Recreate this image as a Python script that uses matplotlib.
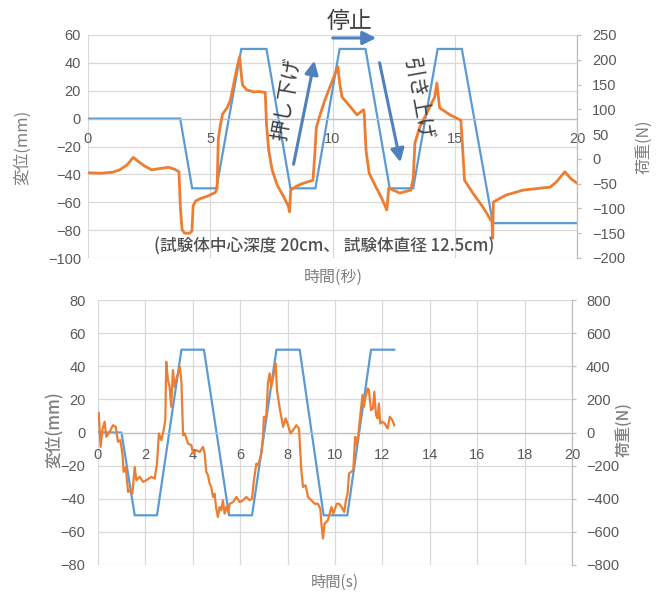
import matplotlib
matplotlib.use("Agg")
import matplotlib.pyplot as plt
from matplotlib.patches import FancyArrowPatch

plt.rcParams['font.family'] = ['Liberation Sans', 'Noto Sans CJK JP', 'DejaVu Sans']

JP = ['Noto Sans CJK JP', 'DejaVu Sans']
NARROW = ['Liberation Sans Narrow', 'Liberation Sans', 'DejaVu Sans']

BLUE = '#5B9BD5'
ORANGE = '#ED7D31'
ARROW = '#4F81BD'
GRID = '#D9D9D9'
TICK = '#595959'
LABEL = '#7F7F7F'

# ---- upper test: displacement (mm) and load (N) vs time (s) ----
top_disp_t = [0, 3.77, 4.26, 5.25, 6.27, 7.30, 8.28, 9.30, 10.29, 11.35,
              12.34, 13.30, 14.30, 15.29, 16.56, 20.0]
top_disp = [0, 0, -50, -50, 50, 50, -50, -50, 50, 50, -50, -50, 50, 50, -75, -75]

top_load_t = [0, 0.5, 1.0, 1.3, 1.6, 1.85, 2.0, 2.3, 2.6, 3.0, 3.3, 3.55, 3.72,
              3.78, 3.85, 3.95, 4.15, 4.25, 4.30, 4.40, 4.60, 4.90, 5.20, 5.28,
              5.33, 5.40, 5.50, 5.70, 5.82, 5.95, 6.09, 6.20, 6.27, 6.32, 6.50,
              6.80, 7.00, 7.25, 7.30, 7.39, 7.53, 7.74, 8.00, 8.20, 8.24, 8.29,
              8.50, 8.70, 9.20, 9.27, 9.34, 9.48, 9.69, 9.90, 10.22, 10.30,
              10.39, 10.73, 11.00, 11.27, 11.30, 11.37, 11.50, 11.77, 11.98,
              12.22, 12.30, 12.75, 13.20, 13.30, 13.37, 13.57, 13.98, 14.18,
              14.27, 14.38, 14.80, 15.25, 15.30, 15.40, 15.74, 16.15, 16.52,
              16.55, 16.58, 17.10, 17.80, 18.90, 19.15, 19.50, 19.75, 20.0]
top_load = [-28, -29, -27, -22, -12, 3, -3, -14, -22, -19, -17, -21, -26,
            -100, -143, -150, -150, -146, -95, -85, -80, -75, -68, -60,
            40, 64, 90, 104, 118, 149, 183, 206, 170, 149, 139,
            135, 136, 134, 70, 18, -22, -53, -76, -96, -107, -63,
            -56, -51, -43, 4, 64, 87, 119, 146, 186, 150,
            125, 105, 89, 99, 90, 18, -29, -56, -76,
            -103, -59, -69, -63, -40, 32, 64, 105, 125,
            153, 103, 89, 78, 40, -43, -69, -97, -127,
            -160, -87, -73, -63, -57, -47, -26, -40, -49]

# ---- lower test ----
bot_disp_t = [0, 0.99, 1.55, 2.49, 3.52, 4.47, 5.53, 6.50, 7.53, 8.51, 9.52,
              10.52, 11.52, 12.50]
bot_disp = [0, 0, -50, -50, 50, 50, -50, -50, 50, 50, -50, -50, 50, 50]

bot_load_t = [0.03, 0.11, 0.18, 0.28, 0.35, 0.49, 0.63, 0.75, 0.84, 0.94, 1.03,
              1.08, 1.17, 1.27, 1.36, 1.45, 1.55, 1.62, 1.76, 1.90, 2.04, 2.25,
              2.39, 2.49, 2.57, 2.67, 2.77, 2.84, 2.88, 2.95, 3.02, 3.09, 3.16,
              3.23, 3.31, 3.38, 3.45, 3.52, 3.59, 3.66, 3.80, 3.94, 4.01, 4.15,
              4.29, 4.43, 4.50, 4.57, 4.64, 4.71, 4.78, 4.85, 4.92, 4.99, 5.06,
              5.13, 5.20, 5.27, 5.34, 5.41, 5.49, 5.56, 5.70, 5.84, 5.98, 6.12,
              6.26, 6.40, 6.50, 6.57, 6.68, 6.75, 6.82, 6.89, 6.96, 7.00, 7.10,
              7.17, 7.24, 7.31, 7.41, 7.50, 7.55, 7.67, 7.81, 7.92, 8.02, 8.12,
              8.23, 8.37, 8.48, 8.58, 8.65, 8.76, 8.86, 9.00, 9.14, 9.28, 9.38,
              9.42, 9.49, 9.56, 9.70, 9.85, 9.93, 10.07, 10.17, 10.28, 10.39,
              10.46, 10.53, 10.59, 10.67, 10.77, 10.85, 10.92, 10.99, 11.06,
              11.16, 11.22, 11.29, 11.38, 11.43, 11.52, 11.60, 11.66, 11.73,
              11.80, 11.85, 11.91, 11.99, 12.10, 12.22, 12.31, 12.42, 12.50]
bot_load = [119, -87, 14, 65, -26, 4, 44, 34, -56, -46, -127,
            -238, -208, -359, -349, -369, -208, -288, -268, -298, -288, -268,
            -278, -188, -6, -46, 14, 75, 427, 317, 276, 155, 377,
            276, 327, 357, 397, 306, -16, -6, -67, -77, -127, -107,
            -117, -87, -127, -238, -258, -308, -329, -389, -369, -460, -510,
            -450, -470, -409, -490, -450, -480, -430, -420, -389, -420, -409,
            -389, -409, -400, -298, -188, -198, -167, -127, -26, 95, 95,
            296, 357, 276, 347, 417, 256, 145, 34, 85, 44, -6,
            14, 44, 24, -228, -329, -319, -389, -409, -430, -430, -460,
            -540, -640, -550, -530, -450, -490, -430, -430, -450, -480,
            -410, -370, -248, -238, -228, -26, -77, -6, 95,
            226, 155, 216, 266, 256, 135, 145, 246, 105,
            85, 175, 54, 65, 54, 24, 95, 75, 44]

W, H = 664, 592
fig = plt.figure(figsize=(W / 100, H / 100), dpi=100)


def fx(x):
    return x / W


def fy(y):
    return 1 - y / H


def style_axes(ax, ax2, tick_font, tick_size, left_pad, right_pad, x_pad):
    ax.set_facecolor('none')
    for s in ('top', 'right', 'left'):
        ax.spines[s].set_visible(False)
    ax.spines['bottom'].set_position(('data', 0))
    ax.spines['bottom'].set_color('#BFBFBF')
    ax.spines['bottom'].set_linewidth(0.9)
    ax.grid(True, color=GRID, linewidth=0.9)
    ax.set_axisbelow(True)
    ax.tick_params(axis='both', length=0, colors=TICK, labelsize=tick_size)
    ax.tick_params(axis='y', pad=left_pad)
    ax.tick_params(axis='x', pad=x_pad)
    for s in ('top', 'left', 'bottom'):
        ax2.spines[s].set_visible(False)
    ax2.spines['right'].set_color('#BFBFBF')
    ax2.spines['right'].set_linewidth(0.9)
    ax2.tick_params(axis='y', length=3, width=0.9, color='#BFBFBF',
                    colors=TICK, labelsize=tick_size, pad=right_pad)
    ax2.tick_params(axis='y', color='#BFBFBF')
    for lab in ax.get_xticklabels() + ax.get_yticklabels() + ax2.get_yticklabels():
        lab.set_family(tick_font)


# ================= upper chart =================
ax = fig.add_axes([fx(88), fy(258), fx(577) - fx(88), fy(35) - fy(258)])
ax2 = ax.twinx()
ax.plot(top_disp_t, top_disp, color=BLUE, lw=1.6, solid_joinstyle='miter')
ax2.plot(top_load_t, top_load, color=ORANGE, lw=2.0)
ax.set_xlim(0, 20)
ax.set_ylim(-100, 60)
ax2.set_ylim(-200, 250)
ax.set_xticks([0, 5, 10, 15, 20])
ax.set_yticks(range(-100, 61, 20))
ax2.set_yticks(range(-200, 251, 50))
style_axes(ax, ax2, ['Liberation Sans', 'DejaVu Sans'], 10.5, 5, 8, 9.5)

fig.text(fx(22), fy(147), '変位(mm)', rotation=90, ha='center', va='center',
         fontsize=12, color=LABEL, family=JP)
fig.text(fx(644), fy(147), '荷重(N)', rotation=90, ha='center', va='center',
         fontsize=11.5, color=LABEL, family=JP)
fig.text(fx(333), fy(277), '時間(秒)', ha='center', va='center',
         fontsize=11.5, color=LABEL, family=JP)
fig.text(fx(324), fy(246), '(試験体中心深度 20cm、 試験体直径 12.5cm)',
         ha='center', va='center', fontsize=12, color='#505050',
         fontweight='medium', family=JP)

# motion annotations
fig.text(fx(350), fy(21), '停止', ha='center', va='center', fontsize=16.5,
         color='#404040', family=JP)
fig.text(fx(287), fy(99), '押し下げ', ha='center', va='center', fontsize=15,
         color='#404040', rotation=80, family=JP)
fig.text(fx(418), fy(99), '引き上げ', ha='center', va='center', fontsize=15,
         color='#404040', rotation=-80, family=JP)

for (x0, y0), (x1, y1) in [((330, 38), (379, 38)),
                           ((293, 167), (315, 58)),
                           ((379, 60), (401, 165))]:
    fig.patches.append(FancyArrowPatch((fx(x0), fy(y0)), (fx(x1), fy(y1)),
                                       transform=fig.transFigure,
                                       arrowstyle='-|>', mutation_scale=20,
                                       lw=2.2, color=ARROW))

# ================= lower chart =================
bx = fig.add_axes([fx(98), fy(565), fx(572) - fx(98), fy(300) - fy(565)])
bx2 = bx.twinx()
bx.plot(bot_disp_t, bot_disp, color=BLUE, lw=1.6)
bx2.plot(bot_load_t, bot_load, color=ORANGE, lw=1.6)
bx.set_xlim(0, 20)
bx.set_ylim(-80, 80)
bx2.set_ylim(-800, 800)
bx.set_xticks(range(0, 21, 2))
bx.set_yticks(range(-80, 81, 20))
bx2.set_yticks(range(-800, 801, 200))
style_axes(bx, bx2, NARROW, 10.5, 9, 7, 11)

fig.text(fx(55), fy(430), '変位(mm)', rotation=90, ha='center', va='center',
         fontsize=12, color=LABEL, fontweight='medium', family=JP)
fig.text(fx(624), fy(430), '荷重(N)', rotation=90, ha='center', va='center',
         fontsize=11.5, color=LABEL, fontweight='medium', family=JP)
fig.text(fx(335), fy(582), '時間(s)', ha='center', va='center',
         fontsize=11, color=LABEL, family=JP)

fig.savefig('out.png', dpi=100)
